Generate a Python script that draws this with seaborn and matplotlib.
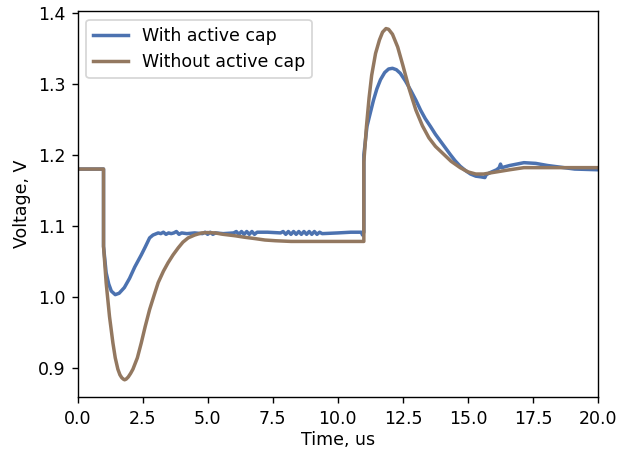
# coding: utf-8
# purpose: load step response with / without active cap

import pandas as pd
import matplotlib
matplotlib.use("Agg")
import matplotlib.pyplot as plt
import seaborn as sns

""" Data read off the scope traces """
with_t = [0.0, 1.0, 1.0, 1.1, 1.2, 1.3, 1.45, 1.6, 1.8, 2.0, 2.2, 2.45, 2.6, 2.77, 2.9, 3.1,
          3.2, 3.3, 3.4, 3.5, 3.6, 3.7, 3.8, 3.9, 4.0, 4.2, 4.5, 4.8, 4.9, 5.0, 5.1, 5.2, 5.3,
          5.6, 6.0, 6.1, 6.2, 6.3, 6.4, 6.5, 6.6, 6.7, 6.8, 6.9, 7.3, 7.8, 7.9, 8.0, 8.1, 8.2,
          8.3, 8.4, 8.5, 8.6, 8.7, 8.8, 8.9, 9.0, 9.1, 9.2, 9.3, 9.4, 10.0, 10.5, 10.9, 10.95,
          11.0, 11.0, 11.12, 11.2, 11.37, 11.5, 11.64, 11.8, 11.95, 12.1, 12.25, 12.4, 12.6,
          12.8, 13.0, 13.18, 13.36, 13.56, 13.75, 13.95, 14.15, 14.33, 14.5, 14.7, 14.9, 15.1,
          15.3, 15.5, 15.65, 15.7, 15.85, 16.1, 16.2, 16.25, 16.3, 16.6, 17.15, 17.6, 18.06,
          19.1, 20.0]
with_v = [1.180, 1.180, 1.071, 1.034, 1.018, 1.008, 1.003, 1.005, 1.013, 1.026, 1.042, 1.059,
          1.070, 1.083, 1.087, 1.090,
          1.089, 1.091, 1.088, 1.090, 1.089, 1.090, 1.092, 1.088, 1.090, 1.089, 1.090, 1.089,
          1.091, 1.088, 1.091, 1.088, 1.090,
          1.089, 1.090, 1.092, 1.088, 1.092, 1.088, 1.092, 1.088, 1.092, 1.088, 1.091, 1.091,
          1.090, 1.092, 1.088, 1.092, 1.088,
          1.092, 1.088, 1.092, 1.088, 1.092, 1.088, 1.092, 1.088, 1.092, 1.088, 1.091, 1.089,
          1.090, 1.091, 1.091, 1.087,
          1.091, 1.200, 1.240, 1.252, 1.277, 1.293, 1.306, 1.316, 1.321, 1.322, 1.320, 1.315,
          1.304, 1.291, 1.277, 1.263, 1.251, 1.240, 1.229, 1.219, 1.209, 1.200, 1.192, 1.184,
          1.178, 1.173, 1.170, 1.169, 1.168, 1.172, 1.175, 1.179, 1.182, 1.187, 1.182, 1.185,
          1.189, 1.188, 1.185, 1.180, 1.179]

without_t = [0.0, 1.0, 1.0, 1.1, 1.23, 1.36, 1.45, 1.55, 1.63, 1.7, 1.76, 1.81, 1.87, 1.95,
             2.04, 2.13, 2.3, 2.45, 2.6, 2.77, 2.95, 3.1, 3.3, 3.48, 3.67, 3.87, 4.05, 4.25,
             4.5, 4.77, 5.0, 5.28, 5.6, 6.05, 6.4, 6.82, 7.2, 7.6, 8.2, 9.0, 10.0, 11.0, 11.0,
             11.1, 11.2, 11.3, 11.45, 11.6, 11.72, 11.85, 11.95, 12.1, 12.3, 12.5, 12.75, 13.0,
             13.25, 13.5, 13.75, 13.95, 14.35, 14.7, 15.0, 15.3, 15.6, 16.1, 16.6, 17.15, 18.0,
             20.0]
without_v = [1.180, 1.180, 1.071, 1.020, 0.972, 0.935, 0.914, 0.898, 0.890, 0.886, 0.884,
             0.883, 0.884, 0.887, 0.892, 0.898, 0.914, 0.935, 0.958, 0.982, 1.003, 1.020,
             1.036, 1.048, 1.059, 1.069, 1.077, 1.083, 1.087, 1.090, 1.0905, 1.090, 1.088,
             1.086, 1.084, 1.082, 1.080, 1.079, 1.078, 1.078, 1.078, 1.078, 1.190, 1.240,
             1.280, 1.312, 1.343, 1.362, 1.373, 1.378, 1.377, 1.370, 1.352, 1.326, 1.292,
             1.263, 1.241, 1.224, 1.212, 1.205, 1.191, 1.182, 1.176, 1.173, 1.173, 1.176,
             1.179, 1.182, 1.182, 1.182]

labels = ['With active cap', 'Without active cap']

df = pd.concat([
    pd.DataFrame({'t': with_t, 'v': with_v, 'case': labels[0]}),
    pd.DataFrame({'t': without_t, 'v': without_v, 'case': labels[1]}),
])

""" Draw """
deep = sns.color_palette('deep')
palette = {labels[0]: deep[0], labels[1]: deep[5]}

fig, ax = plt.subplots(figsize=(5.0, 3.592), dpi=125)
fig.subplots_adjust(left=0.124, right=0.957, bottom=0.115, top=0.9755)

sns.lineplot(data=df, x='t', y='v', hue='case', palette=palette,
             estimator=None, sort=False, linewidth=2.0, ax=ax)

ax.set_xlim(0, 20)
ax.set_xlabel('Time, us', labelpad=2)
ax.set_ylabel('Voltage, V')
sns.move_legend(ax, 'upper left', title=None)

plt.savefig('out.png', dpi=125)
